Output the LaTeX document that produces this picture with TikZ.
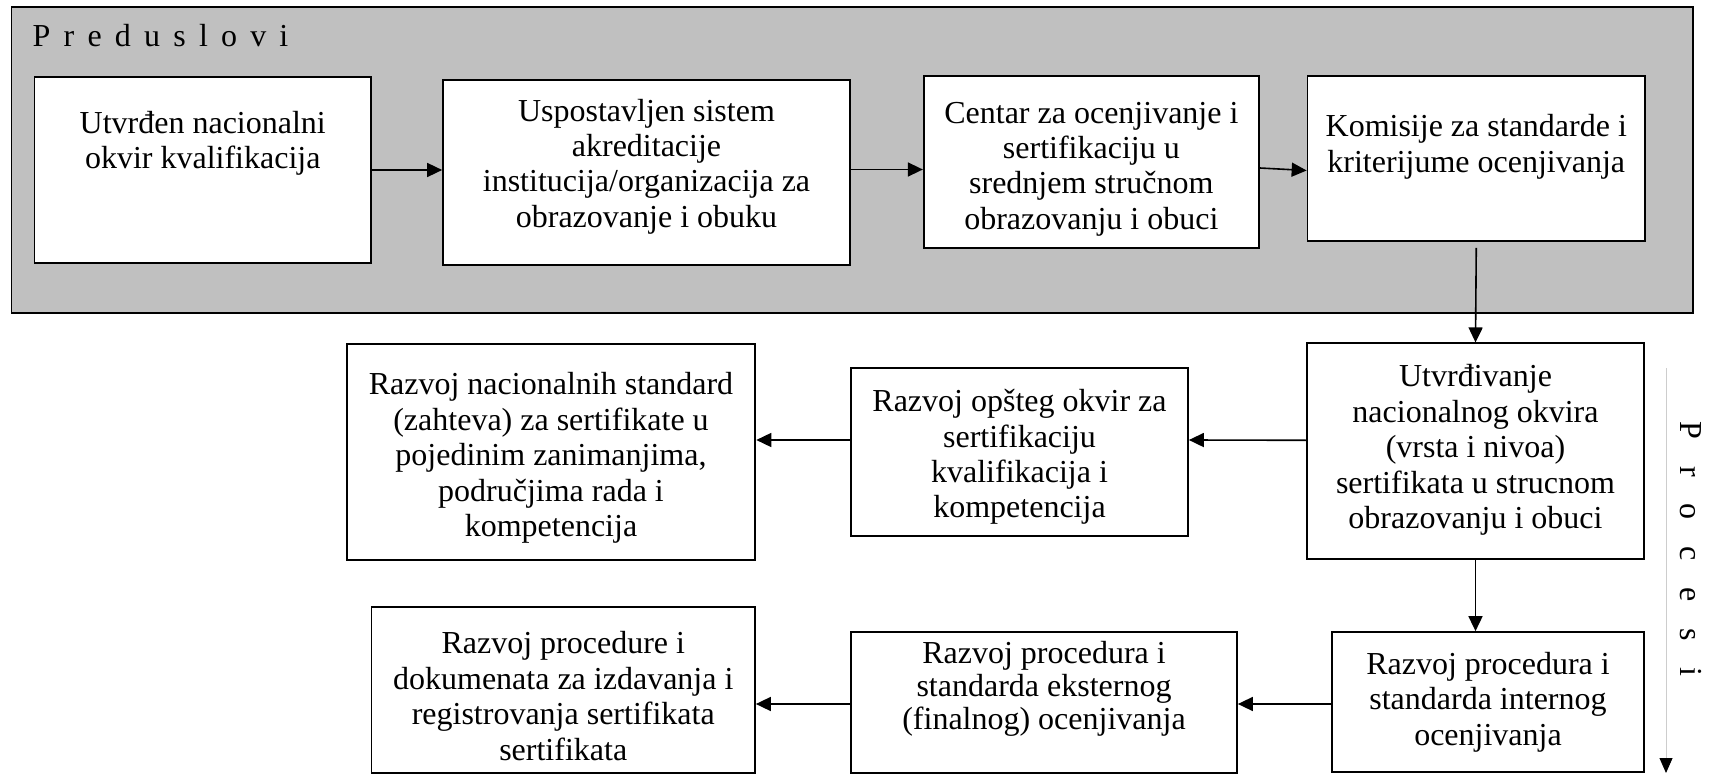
\documentclass[tikz,border=0pt]{standalone}
\usepackage{fontspec}
\setmainfont{Liberation Serif}
\usetikzlibrary{arrows.meta}
\begin{document}
\begin{tikzpicture}[x=1pt,y=-1pt,
  box/.style={draw=black, line width=1.7pt, fill=white, inner sep=0pt},
  graybox/.style={draw=black, line width=1.7pt, fill={rgb,255:red,192;green,192;blue,192}, inner sep=0pt},
  txt/.style={align=center, inner sep=0pt, font=\fontsize{32}{35.4}\selectfont},
  arr/.style={line width=1.6pt, -{Triangle[length=15pt,width=14pt]}},
  procline/.style={draw={rgb,255:red,205;green,205;blue,205}, line width=0.9pt, -{Triangle[length=15pt,width=13pt,color=black]}}
]
\useasboundingbox (0,0) rectangle (1715,775);
% Preduslovi container
\node[graybox, anchor=north west, minimum width=1681.3pt, minimum height=306pt] (pre) at (10.7,6) {};
\node[anchor=base west, inner sep=0pt, font=\fontsize{32}{35.4}\selectfont] (pretitle) at (32.5,46.7) {\spaceskip=13.2pt plus 0pt minus 0pt P r e d u s l o v i};
% top row boxes
\node[box, minimum width=336.5pt, minimum height=186.3pt] (b1) at (202.75,169.85) {};
\node[txt] (t1) at (202.75,143.5) {Utvrđen nacionalni\\okvir kvalifikacija};
\node[box, minimum width=407pt, minimum height=185pt] (b2) at (646.5,172.5) {};
\node[txt] (t2) at (646.5,166.5) {Uspostavljen sistem\\akreditacije\\institucija/organizacija za\\obrazovanje i obuku};
\node[box, minimum width=335.3pt, minimum height=172pt] (b3) at (1091.35,162) {};
\node[txt] (t3) at (1091.35,169) {Centar za ocenjivanje i\\sertifikaciju u\\srednjem stručnom\\obrazovanju i obuci};
\node[box, minimum width=337.5pt, minimum height=165pt] (b4) at (1476.25,158.5) {};
\node[txt] (t4) at (1476.25,147) {Komisije za standarde i\\kriterijume ocenjivanja};
% middle row
\node[box, minimum width=337pt, minimum height=216pt] (b5) at (1475.5,451.3) {};
\node[txt] (t5) at (1475.5,450) {Utvrđivanje\\nacionalnog okvira\\(vrsta i nivoa)\\sertifikata u strucnom\\obrazovanju i obuci};
\node[box, minimum width=337pt, minimum height=168pt] (b6) at (1019.5,452) {};
\node[txt] (t6) at (1019.5,457) {Razvoj opšteg okvir za\\sertifikaciju\\kvalifikacija i\\kompetencija};
\node[box, line width=2.6pt, minimum width=408pt, minimum height=216pt] (b7) at (551,452) {};
\node[txt] (t7) at (551,458) {Razvoj nacionalnih standard\\(zahteva) za sertifikate u\\pojedinim zanimanjima,\\područjima rada i\\kompetencija};
% bottom row
\node[box, minimum width=312pt, minimum height=140pt] (b8) at (1488,702) {};
\node[txt] (t8) at (1488,702) {Razvoj procedura i\\standarda internog\\ocenjivanja};
\node[box, minimum width=386pt, minimum height=141pt] (b9) at (1044,702.5) {};
\node[txt, font=\fontsize{32}{33}\selectfont] (t9) at (1044,689) {Razvoj procedura i\\standarda eksternog\\(finalnog) ocenjivanja};
\node[box, minimum width=383.5pt, minimum height=166pt] (b10) at (563.25,690) {};
\node[txt] (t10) at (563.25,696) {Razvoj procedure i\\dokumenata za izdavanja i\\registrovanja sertifikata\\sertifikata};
% connectors
\draw[arr] ([yshift=-0.15pt]b1.east) -- ([yshift=2.5pt]b2.west);
\draw[arr] ([yshift=3pt]b2.east) -- ([yshift=-7.5pt]b3.west);
\draw[arr] ([yshift=-6pt]b3.east) -- ([yshift=-12pt]b4.west);
\draw[arr] ([yshift=-6pt]b4.south) -- (b5.north);
\draw[arr] ([yshift=11pt]b5.west) -- ([yshift=12pt]b6.east);
\draw[arr] ([yshift=12pt]b6.west) -- ([yshift=12pt]b7.east);
\draw[arr] (b5.south) -- (b5.south |- b8.north);
\draw[arr] ([yshift=-2pt]b8.west) -- ([yshift=-1.5pt]b9.east);
\draw[arr] ([yshift=-1.5pt]b9.west) -- ([yshift=-14pt]b10.east);
% Procesi
\coordinate (ptop) at (1666,368);
\coordinate (pbot) at (1666,773);
\draw[procline] (ptop) -- (pbot);
\node[rotate=-90, inner sep=0pt, font=\fontsize{32}{35.4}\selectfont] (proc) at (1690.7,549.2) {\spaceskip=26.8pt plus 0pt minus 0pt P r o c e s i};
\end{tikzpicture}
\end{document}
